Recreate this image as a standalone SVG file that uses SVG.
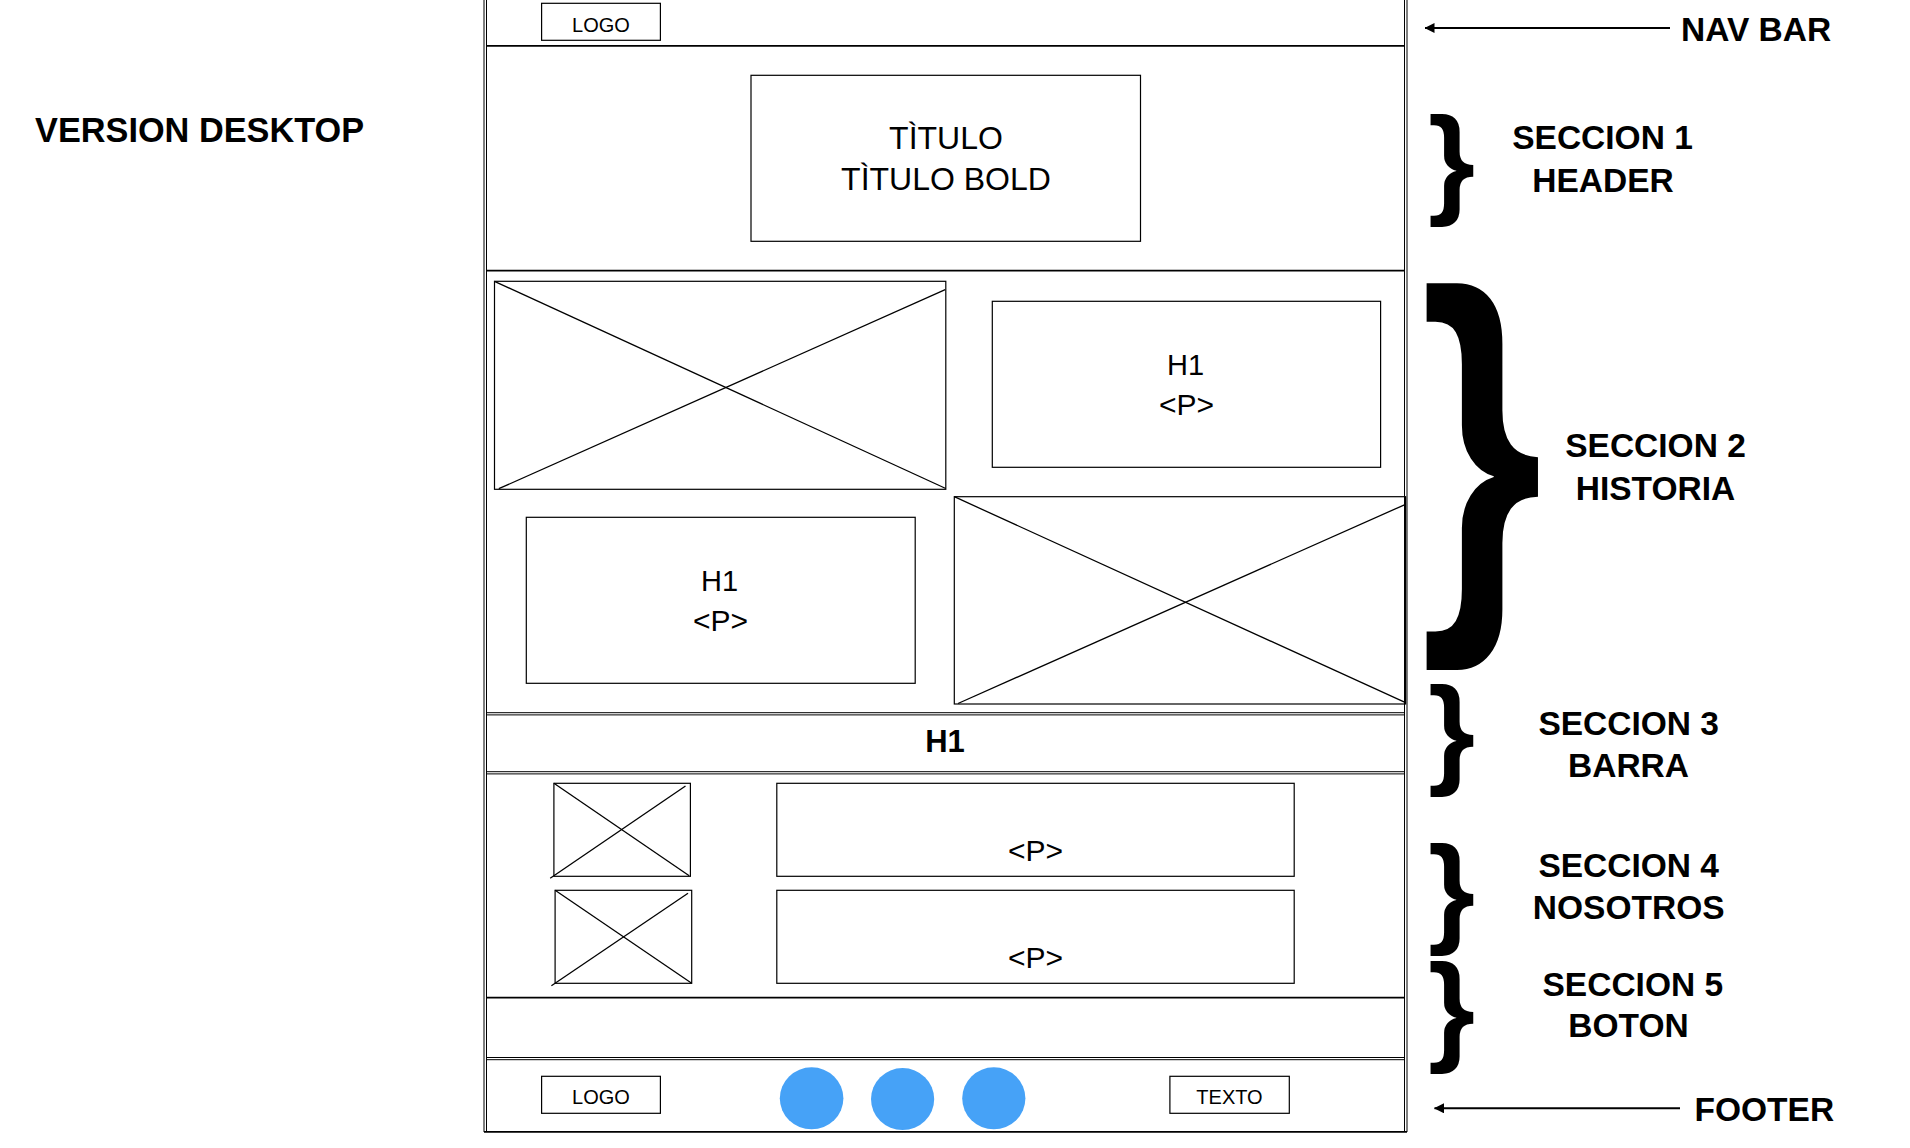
<svg xmlns="http://www.w3.org/2000/svg" width="1910" height="1148" viewBox="0 0 1910 1148">
<defs>
<style>
.box{fill:none;stroke:#000;stroke-width:1.2}
.x{stroke:#000;stroke-width:1.3;fill:none}
.sep{stroke:#000;stroke-width:1.8}
.thin{stroke:#000;stroke-width:1}
.t{font-family:"Liberation Sans",Arial,sans-serif;fill:#000;text-anchor:middle}
.lbl{font-family:"Liberation Sans",Arial,sans-serif;font-weight:bold;fill:#000;font-size:33.5px}
.mid{text-anchor:middle}
.brace{font-family:"Liberation Sans",Arial,sans-serif;font-weight:bold;fill:#000}
.dot{fill:#46A2F7}
.arr{stroke:#000;stroke-width:2;fill:none;marker-end:url(#ah)}
</style>
<marker id="ah" viewBox="0 0 10 10" refX="9.5" refY="5" markerWidth="5" markerHeight="5" orient="auto" markerUnits="strokeWidth">
<path d="M0,0 L10,5 L0,10 z" fill="#000"/>
</marker>
</defs>
<rect width="1910" height="1148" fill="#fff"/>

<g id="frame">
<line class="thin" x1="484" y1="0" x2="484" y2="1132"/>
<line class="thin" x1="486.5" y1="0" x2="486.5" y2="1132"/>
<line class="thin" x1="1404.5" y1="0" x2="1404.5" y2="1132"/>
<line class="thin" x1="1407" y1="0" x2="1407" y2="1132"/>
<line class="sep" x1="486" y1="45.8" x2="1405" y2="45.8"/>
<line class="sep" x1="486" y1="270.7" x2="1405" y2="270.7"/>
<line class="thin" x1="486" y1="712.7" x2="1405" y2="712.7"/>
<line class="thin" x1="486" y1="714.9" x2="1405" y2="714.9"/>
<line class="thin" x1="486" y1="771.7" x2="1405" y2="771.7"/>
<line class="thin" x1="486" y1="773.9" x2="1405" y2="773.9"/>
<line class="sep" x1="486" y1="997.6" x2="1405" y2="997.6"/>
<line class="thin" x1="486" y1="1057.5" x2="1405" y2="1057.5"/>
<line class="thin" x1="486" y1="1059.7" x2="1405" y2="1059.7"/>
<line class="sep" x1="484" y1="1131.8" x2="1407" y2="1131.8"/>
</g>

<g id="nav-logo">
<rect class="box" x="541.6" y="3.3" width="118.8" height="37"/>
<text class="t" x="601" y="31.5" font-size="20">LOGO</text>
</g>

<g id="header-title">
<rect class="box" x="751" y="75.3" width="389.5" height="166"/>
<text class="t" x="946" y="149" font-size="32">TÌTULO</text>
<text class="t" x="946" y="190" font-size="32">TÌTULO BOLD</text>
</g>

<g id="historia-img-1">
<rect class="box" x="494.5" y="281.3" width="451.3" height="208"/>
<line class="x" x1="494.5" y1="281.3" x2="945.8" y2="488.5"/>
<line class="x" x1="498.8" y1="488.7" x2="945.2" y2="289.7"/>
</g>

<g id="historia-text-1">
<rect class="box" x="992.3" y="301.3" width="388.3" height="166"/>
<text class="t" x="1185.5" y="375" font-size="29">H1</text>
<text class="t" x="1186.5" y="414.5" font-size="30">&lt;P&gt;</text>
</g>

<g id="historia-text-2">
<rect class="box" x="526.3" y="517.3" width="388.9" height="166"/>
<text class="t" x="719.5" y="591" font-size="29">H1</text>
<text class="t" x="720.5" y="630.5" font-size="30">&lt;P&gt;</text>
</g>

<g id="historia-img-2">
<rect class="box" x="954.3" y="496.7" width="451.3" height="207.3"/>
<line class="x" x1="954.3" y1="496.7" x2="1405.6" y2="702.7"/>
<line class="x" x1="958" y1="703.5" x2="1405.6" y2="504.3"/>
</g>

<g id="barra-h1">
<text class="t" x="945" y="752" font-size="31" font-weight="bold">H1</text>
</g>

<g id="nosotros-img-1">
<rect class="box" x="553.9" y="783.3" width="136.5" height="93"/>
<line class="x" x1="553.9" y1="783.3" x2="689.2" y2="875.7"/>
<line class="x" x1="550.2" y1="878.3" x2="685.5" y2="786"/>
</g>

<g id="nosotros-text-1">
<rect class="box" x="776.8" y="783.3" width="517.4" height="93"/>
<text class="t" x="1035.5" y="861" font-size="30">&lt;P&gt;</text>
</g>

<g id="nosotros-img-2">
<rect class="box" x="555.1" y="890.3" width="136.6" height="93"/>
<line class="x" x1="555.1" y1="890.3" x2="691.7" y2="983.3"/>
<line class="x" x1="551.4" y1="985.7" x2="688" y2="893.3"/>
</g>

<g id="nosotros-text-2">
<rect class="box" x="776.8" y="890.3" width="517.4" height="93"/>
<text class="t" x="1035.5" y="967.7" font-size="30">&lt;P&gt;</text>
</g>

<g id="footer-logo">
<rect class="box" x="541.6" y="1076.3" width="118.8" height="37"/>
<text class="t" x="601" y="1104.3" font-size="20">LOGO</text>
</g>

<g id="footer-icons">
<ellipse class="dot" cx="811.6" cy="1098.3" rx="31.8" ry="31"/>
<ellipse class="dot" cx="902.6" cy="1099.1" rx="31.6" ry="31"/>
<ellipse class="dot" cx="993.8" cy="1098.3" rx="31.6" ry="31"/>
</g>

<g id="footer-texto">
<rect class="box" x="1169.9" y="1076.3" width="119.4" height="37"/>
<text class="t" x="1229.5" y="1104.3" font-size="20">TEXTO</text>
</g>

<g id="label-version">
<text class="lbl" x="35" y="141.7" style="font-size:34.3px">VERSION DESKTOP</text>
</g>

<g id="label-navbar">
<text class="lbl" x="1681" y="40.7">NAV BAR</text>
</g>

<g id="label-footer">
<text class="lbl" x="1694.5" y="1120.7">FOOTER</text>
</g>

<g id="label-seccion1">
<text class="brace" font-size="121" transform="translate(1428,201.6)">}</text>
<text class="lbl mid" x="1602.5" y="149">SECCION 1</text>
<text class="lbl mid" x="1603" y="192.3">HEADER</text>
</g>

<g id="label-seccion2">
<text class="brace" font-size="415" transform="translate(1420,584) scale(0.76,1)">}</text>
<text class="lbl mid" x="1655.5" y="457.3">SECCION 2</text>
<text class="lbl mid" x="1655.5" y="500">HISTORIA</text>
</g>

<g id="label-seccion3">
<text class="brace" font-size="121" transform="translate(1428,771.6)">}</text>
<text class="lbl mid" x="1628.7" y="735">SECCION 3</text>
<text class="lbl mid" x="1628.5" y="776.7">BARRA</text>
</g>

<g id="label-seccion4">
<text class="brace" font-size="121" transform="translate(1428,930.6)">}</text>
<text class="lbl mid" x="1628.7" y="877.3">SECCION 4</text>
<text class="lbl mid" x="1628.7" y="919.3">NOSOTROS</text>
</g>

<g id="label-seccion5">
<text class="brace" font-size="121" transform="translate(1428,1049.3)">}</text>
<text class="lbl mid" x="1632.8" y="995.7">SECCION 5</text>
<text class="lbl mid" x="1628.5" y="1037.3">BOTON</text>
</g>

<g id="connectors">
<line class="arr" x1="1670" y1="28" x2="1425" y2="28"/>
<line class="arr" x1="1680" y1="1108.3" x2="1434.5" y2="1108.3"/>
</g>
</svg>
